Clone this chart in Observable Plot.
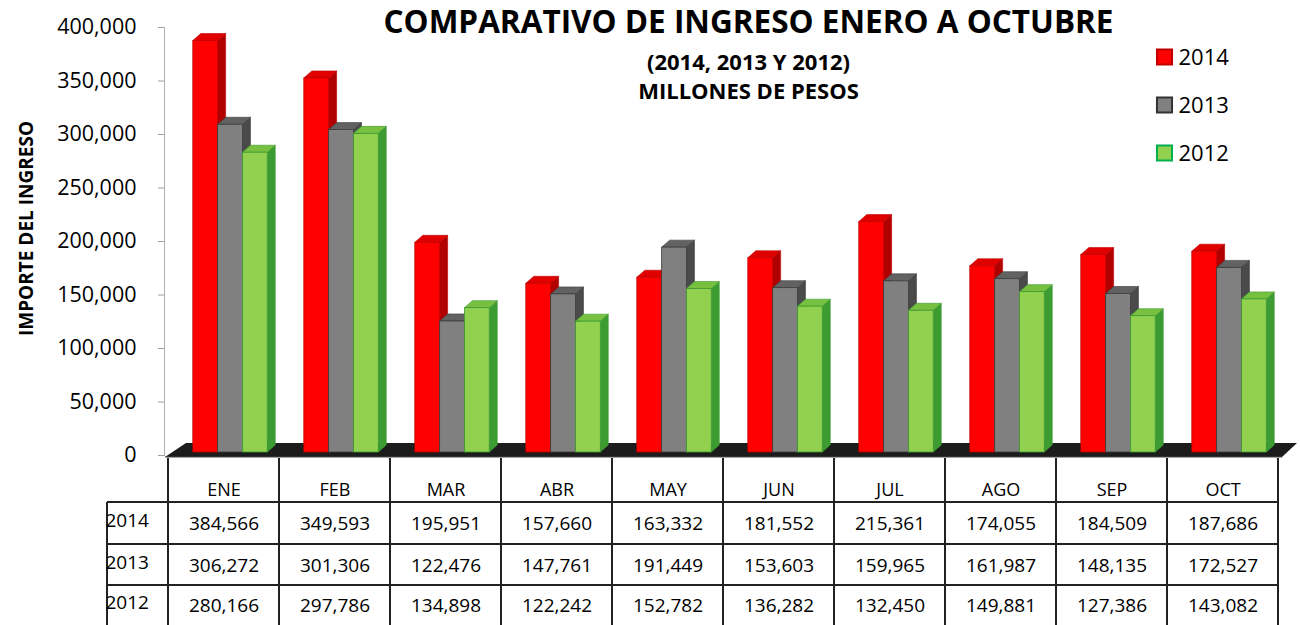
<!DOCTYPE html>
<html><head><meta charset="utf-8">
<script src="https://cdn.jsdelivr.net/npm/d3@7"></script>
<script src="https://cdn.jsdelivr.net/npm/@observablehq/plot@0.6"></script>
<style>body{margin:0;background:#fff}</style>
</head><body><div id="chart"></div>
<script>
const months = ["ENE","FEB","MAR","ABR","MAY","JUN","JUL","AGO","SEP","OCT"];
const years = ["2014","2013","2012"];
const v2014 = [384566,349593,195951,157660,163332,181552,215361,174055,184509,187686];
const v2013 = [306272,301306,122476,147761,191449,153603,159965,161987,148135,172527];
const v2012 = [280166,297786,134898,122242,152782,136282,132450,149881,127386,143082];
const yTicks = [0,50000,100000,150000,200000,250000,300000,350000,400000];
const title = "COMPARATIVO DE INGRESO ENERO A OCTUBRE";
const subtitle1 = "(2014, 2013 Y 2012)";
const subtitle2 = "MILLONES DE PESOS";
const yLabel = "IMPORTE DEL INGRESO";

const seriesValues = [v2014, v2013, v2012];
const styles = [
  {front:"#ff0000", top:"#e00000", side:"#b00000", stroke:"#c00000", legendStroke:"#c00000"},
  {front:"#808080", top:"#626262", side:"#4a4a4a", stroke:"#3a3a3a", legendStroke:"#333333"},
  {front:"#92d050", top:"#78c040", side:"#3c9c32", stroke:"#3a9a30", legendStroke:"#00b050"}
];
const rows = months.flatMap((m, i) => years.map((y, k) => ({month: m, year: y, value: seriesValues[k][i], k})));
const fmt = d3.format(",");

function floorRender(index, scales, values, dims) {
  const xl = dims.marginLeft, xr = dims.width - dims.marginRight, y0 = scales.y(0);
  const g = d3.create("svg:g");
  g.append("polygon")
    .attr("points", [[xl+1, y0+2],[xr, y0+2],[xr+15, y0-12],[xl+22, y0-12]].map(p=>p.join(",")).join(" "))
    .attr("fill", "#1c1c1c");
  g.append("line").attr("x1", xl+1).attr("x2", xr).attr("y1", y0+2).attr("y2", y0+2).attr("stroke", "#444").attr("stroke-width", 1);
  return g.node();
}

function barsRender(index, scales) {
  const g = d3.create("svg:g");
  const bw = scales.x.bandwidth();
  const slot = bw * 0.2236, lead = bw * 0.2236;
  const ddx = 8, ddy = 7;
  const base = scales.y(0) - 3;
  for (const i of index) {
    const d = rows[i], st = styles[d.k];
    const x0 = scales.x(d.month) + lead + d.k * slot, x1 = x0 + slot;
    const yt = scales.y(d.value) - 3;
    const pts = a => a.map(p => p.join(",")).join(" ");
    g.append("polygon").attr("points", pts([[x1, yt],[x1+ddx, yt-ddy],[x1+ddx, base-ddy],[x1, base]]))
      .attr("fill", st.side).attr("stroke", st.stroke).attr("stroke-width", 0.6);
    g.append("polygon").attr("points", pts([[x0, yt],[x0+ddx, yt-ddy],[x1+ddx, yt-ddy],[x1, yt]]))
      .attr("fill", st.top).attr("stroke", st.stroke).attr("stroke-width", 0.6);
    g.append("rect").attr("x", x0).attr("y", yt).attr("width", slot).attr("height", base - yt)
      .attr("fill", st.front).attr("stroke", st.stroke).attr("stroke-width", 0.8);
  }
  return g.node();
}

function gridRender(index, scales, values, dims) {
  const g = d3.create("svg:g").attr("stroke", "#222").attr("stroke-width", 2);
  const bw = scales.x.bandwidth();
  const x0 = scales.x(months[0]);
  const y0 = scales.y(0);
  for (let k = 0; k <= months.length; k++) {
    const x = x0 + k * bw;
    g.append("line").attr("x1", x).attr("x2", x).attr("y1", y0 + 3).attr("y2", dims.height);
  }
  const xl = x0 - 61, xr = x0 + months.length * bw;
  g.append("line").attr("x1", xl).attr("x2", xl).attr("y1", y0 + 47).attr("y2", dims.height);
  for (const off of [47, 89, 130]) {
    g.append("line").attr("x1", xl).attr("x2", xr).attr("y1", y0 + off).attr("y2", y0 + off);
  }
  return g.node();
}

const rowDy = [68, 110, 150];
const marks = [
  Plot.frame({anchor: "left", stroke: "#b0b0b0"}),
  Plot.axisY(yTicks, {tickFormat: fmt, tickSize: 6, tickPadding: 22, fontSize: 21.5, stroke: "#a0a0a0", fill: "#000", label: null}),
  Plot.ruleY([0], {render: floorRender}),
  Plot.barY(rows, {x: "month", y: "value", render: barsRender}),
  Plot.ruleY([0], {render: gridRender}),
  Plot.text(months, {x: d => d, text: d => d, frameAnchor: "bottom", dy: 35, lineAnchor: "middle", fontSize: 18, fill: "#000"}),
  ...years.map((y, k) => Plot.text(rows.filter(r => r.k === k), {x: "month", text: d => fmt(d.value), frameAnchor: "bottom", dy: rowDy[k], lineAnchor: "middle", fontSize: 19, fill: "#000"})),
  ...years.map((y, k) => Plot.text([y], {text: d => d, frameAnchor: "bottom-left", dx: -59, dy: rowDy[k] - 3, textAnchor: "start", lineAnchor: "middle", fontSize: 19, fill: "#000"})),
  Plot.text([title], {text: d => d, frameAnchor: "top", dx: 25, dy: -5, lineAnchor: "middle", fontSize: 31.5, fontWeight: "bold", fill: "#000"}),
  Plot.text([subtitle1], {text: d => d, frameAnchor: "top", dx: 25, dy: 35, lineAnchor: "middle", fontSize: 22, fontWeight: "bold", fill: "#000"}),
  Plot.text([subtitle2], {text: d => d, frameAnchor: "top", dx: 25, dy: 64, lineAnchor: "middle", fontSize: 22, fontWeight: "bold", fill: "#000"}),
  Plot.text([yLabel], {text: d => d, frameAnchor: "left", dx: -138, dy: -13, rotate: -90, textAnchor: "middle", lineAnchor: "middle", fontSize: 19, fontWeight: "bold", fill: "#000"}),
  ...years.map((y, k) => Plot.dot([y], {frameAnchor: "top-right", dx: -118, dy: 29.5 + 48 * k, symbol: "square", r: 8.5, fill: styles[k].front, stroke: styles[k].legendStroke, strokeWidth: 2})),
  ...years.map((y, k) => Plot.text([y], {text: d => d, frameAnchor: "top-right", dx: -104, dy: 30 + 48 * k, textAnchor: "start", lineAnchor: "middle", fontSize: 22, fill: "#000"}))
];

const chart = Plot.plot({
  width: 1300,
  height: 625,
  marginLeft: 164,
  marginRight: 18,
  marginTop: 27,
  marginBottom: 170,
  style: {fontFamily: "'Open Sans', sans-serif", background: "#fff", overflow: "visible"},
  x: {type: "band", domain: months, padding: 0, axis: null},
  y: {domain: [0, 400000], axis: null},
  marks
});
document.getElementById("chart").appendChild(chart);
</script>
</body></html>
